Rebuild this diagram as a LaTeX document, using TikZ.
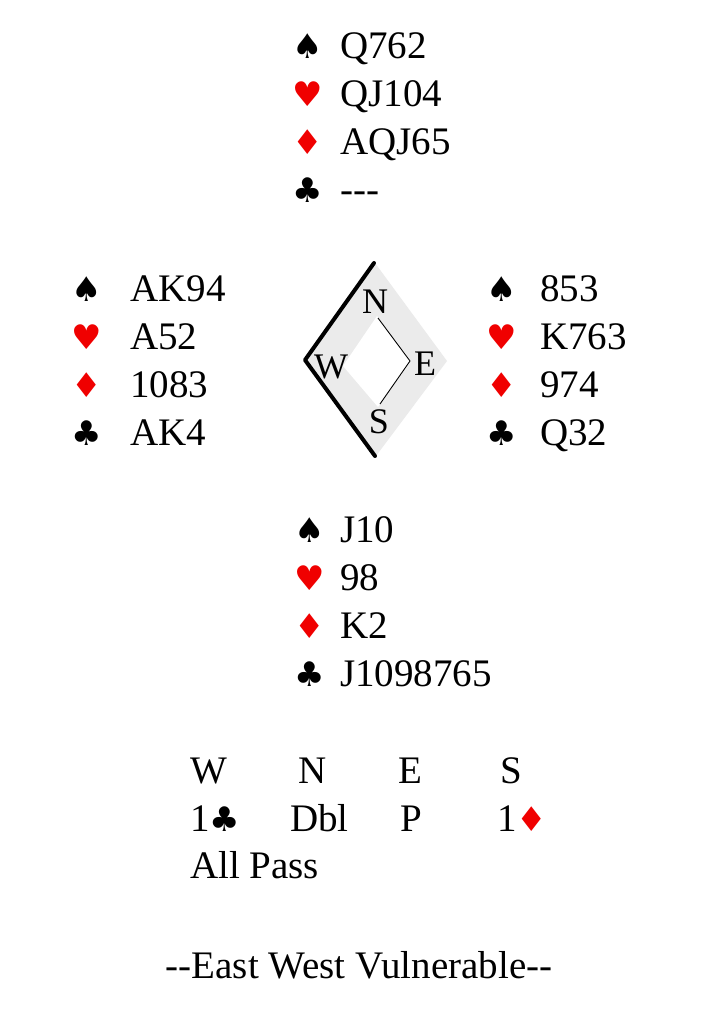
\documentclass[tikz,border=0pt]{standalone}
\usepackage{fontspec}
\setmainfont{Liberation Serif}
\newfontfamily\suitfont{DejaVu Sans}
\usepackage{xcolor}
\usetikzlibrary{positioning}

\definecolor{suitred}{RGB}{240,0,0}
\newcommand{\suitS}{{\suitfont\char"2660}}
\newcommand{\suitH}{{\color{suitred}\suitfont\char"2665}}
\newcommand{\suitD}{{\color{suitred}\suitfont\char"2666}}
\newcommand{\suitC}{{\suitfont\char"2663}}

\begin{document}
\begin{tikzpicture}[
    x=1pt,y=-1pt,
    every node/.style={inner sep=0pt},
    suit/.style={anchor=base,font=\fontsize{34}{34}\selectfont},
    holding/.style={anchor=base west,font=\fontsize{39}{39}\selectfont},
    compassletter/.style={font=\fontsize{36}{36}\selectfont},
    call/.style={anchor=base west,font=\fontsize{39}{39}\selectfont},
]
\useasboundingbox[fill=white] (0,0) rectangle (725,1013);

% north
\node[suit] (ns) at (308,58) {\suitS};   \node[holding] (nsh) at (340,58) {Q762};
\node[suit] (nh) at (308,106) {\suitH};  \node[holding] (nhh) at (340,106) {QJ104};
\node[suit] (nd) at (308,154) {\suitD};  \node[holding] (ndh) at (340,154) {AQJ65};
\node[suit] (nc) at (308,202) {\suitC};  \node[holding] (nch) at (340,202) {-{}-{}-};

% west
\node[suit] (ws) at (87,301) {\suitS};   \node[holding] (wsh) at (130,301) {AK94};
\node[suit] (wh) at (87,349) {\suitH};   \node[holding] (whh) at (130,349) {A52};
\node[suit] (wd) at (87,397) {\suitD};   \node[holding] (wdh) at (130,397) {1083};
\node[suit] (wc) at (87,445) {\suitC};   \node[holding] (wch) at (130,445) {AK4};

% east
\node[suit] (es) at (502,301) {\suitS};  \node[holding] (esh) at (540,301) {853};
\node[suit] (eh) at (502,349) {\suitH};  \node[holding] (ehh) at (540,349) {K763};
\node[suit] (ed) at (502,397) {\suitD};  \node[holding] (edh) at (540,397) {974};
\node[suit] (ec) at (502,445) {\suitC};  \node[holding] (ech) at (540,445) {Q32};

% south
\node[suit] (ss) at (310,542) {\suitS};  \node[holding] (ssh) at (340,542) {J10};
\node[suit] (sh) at (310,590) {\suitH};  \node[holding] (shh) at (340,590) {98};
\node[suit] (sd) at (310,638) {\suitD};  \node[holding] (sdh) at (340,638) {K2};
\node[suit] (sc) at (310,686) {\suitC};  \node[holding] (sch) at (340,686) {J1098765};

% compass
\fill[gray!16] (375,263) -- (447,361) -- (376,456) -- (305,360) -- cycle;
\fill[white] (377,316) -- (411,361) -- (378,407) -- (343,366) -- cycle;
\draw[line width=0.9pt] (378,318) -- (410,361) -- (380,404);
\draw[line width=4pt,line cap=round,line join=round] (374,263) -- (305,360) -- (375,456);
\node[compassletter] (cn) at (375,302) {N};
\node[compassletter] (cw) at (331,367) {W};
\node[compassletter] (ce) at (425,364) {E};
\node[compassletter] (cs) at (379,422) {S};

% auction
\node[call] (aw) at (190,783) {W};
\node[call] (an) at (298,783) {N};
\node[call] (ae) at (398,783) {E};
\node[call] (as) at (500,783) {S};
\node[call] (b1) at (190,831) {1{\fontsize{34}{34}\selectfont\suitC}};
\node[call] (b2) at (290,831) {Dbl};
\node[call] (b3) at (400,831) {P};
\node[call] (b4) at (497,831) {1{\fontsize{34}{34}\selectfont\suitD}};
\node[call] (b5) at (190,878) {All Pass};

\node[anchor=base,font=\fontsize{39}{39}\selectfont] (vul) at (359,978) {-{}-East West Vulnerable-{}-};
\end{tikzpicture}
\end{document}
